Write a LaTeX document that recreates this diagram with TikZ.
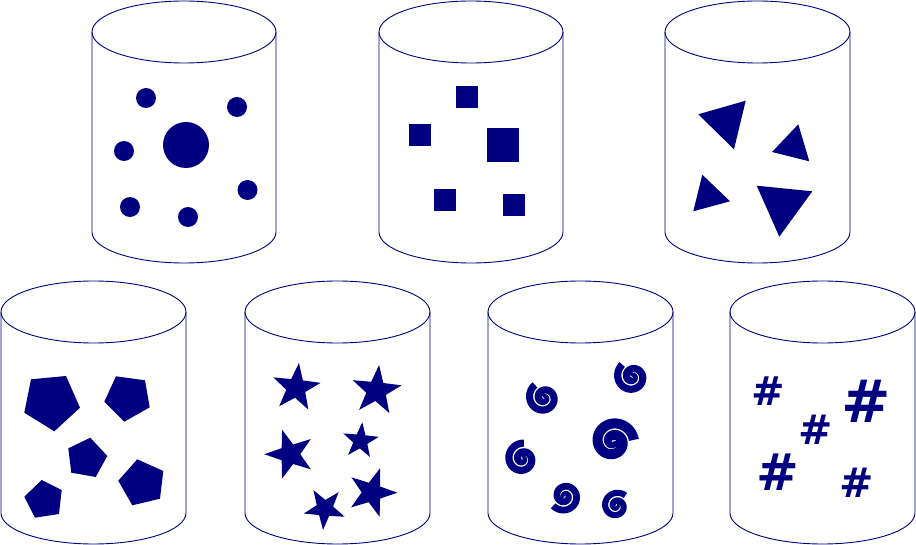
\documentclass[tikz,border=0pt]{standalone}
\usepackage{fontspec}
\newfontfamily\hashfont{DejaVu Sans}
\definecolor{navy}{RGB}{0,0,128}
\tikzset{
  cyl/.style={draw=navy, line width=0.9pt},
  shapefill/.style={fill=navy},
  hash/.style={text=navy, inner sep=0pt, font=\hashfont\bfseries}
}
\newcommand\cylinder[4]{% cx, top cy, bottom cy, rx
  \draw[cyl] (#1,#2) ellipse (#4 and 31);
  \draw[cyl] ({#1-#4},#2) -- ({#1-#4},#3) arc (180:0:#4 and 31) -- ({#1+#4},#2);
}
\newcommand\mystar[4]{% cx cy R angle
  \fill[shapefill, shift={(#1,#2)}] plot[samples at={0,36,...,324}] ({\x+#4}:{#3*(0.7+0.3*cos(5*\x))}) -- cycle;
}
\newcommand\myspiral[4]{% cx cy R notch
  \pgfmathsetmacro\spk{(#3+0.75)/14.45}
  \pgfmathsetmacro\spw{2*pi*\spk-1.6}
  \draw[navy, line width=\spw pt, shift={(#1,#2)}] plot[domain=0:648, samples=140, smooth] ({\x+#4-648}:{\spk*\x*pi/180});
}
\begin{document}
\begin{tikzpicture}[x=1pt, y=-1pt]
\useasboundingbox (0,0) rectangle (916,545);
% cylinders
\cylinder{184}{32}{232}{92}
\cylinder{471}{32}{232}{92}
\cylinder{757.5}{32}{232}{92.5}
\cylinder{93.5}{312}{513}{92.5}
\cylinder{337.5}{312}{513}{92.5}
\cylinder{580.5}{312}{513}{92.5}
\cylinder{822.5}{312}{513}{92.5}
% circles
\fill[shapefill] (186,145) circle (23);
\foreach \p in {(146,98),(237,107),(124,151),(247.5,190),(130,207),(188,217)}
  \fill[shapefill] \p circle (10);
% squares
\fill[shapefill] (456,86) rectangle (478,108);
\fill[shapefill] (409,124) rectangle (431,146);
\fill[shapefill] (487,128) rectangle (519,162);
\fill[shapefill] (434,189) rectangle (456,211);
\fill[shapefill] (503,194) rectangle (525,216);
% triangles
\fill[shapefill] (698.3,114.3) -- (745.7,100.7) -- (734,149.3) -- cycle;
\fill[shapefill] (798.3,124.3) -- (809.3,161.3) -- (772,152) -- cycle;
\fill[shapefill] (702.3,174.7) -- (730,201.3) -- (693.3,211.3) -- cycle;
\fill[shapefill] (756.7,185.7) -- (812.3,191.3) -- (779.3,236.7) -- cycle;
% pentagons
\fill[shapefill] (31,379.3) -- (66,376) -- (80,407.7) -- (54.3,431.3) -- (24.3,412.7) -- cycle;
\fill[shapefill] (116,376.3) -- (145,380.3) -- (149.7,407.3) -- (124.3,421.7) -- (104.3,401.7) -- cycle;
\fill[shapefill] (90.3,437.7) -- (107.3,456) -- (95.7,477) -- (71.3,472.7) -- (68.3,448.3) -- cycle;
\fill[shapefill] (137.3,459.3) -- (163.3,471) -- (160,498.7) -- (132.3,505.3) -- (118.3,480.7) -- cycle;
\fill[shapefill] (41.7,480) -- (61.7,490) -- (59,514) -- (35,517.7) -- (24.3,496.7) -- cycle;
% stars
\mystar{296.1}{387.8}{25}{-83.4}
\mystar{376.4}{390.7}{25.8}{-84}
\mystar{290}{454.2}{25.7}{180}
\mystar{360.5}{440.9}{18.7}{-84.5}
\mystar{371.9}{492.5}{25.5}{-71.5}
\mystar{324.7}{508.5}{21.5}{-49.5}
% spirals
\myspiral{632.4}{376.7}{19.5}{-130}
\myspiral{544}{397.8}{19.3}{-125}
\myspiral{613}{441.7}{26}{-5}
\myspiral{522.5}{458.9}{19.5}{-85}
\myspiral{564.7}{496.1}{18.5}{140}
\myspiral{616.3}{505.9}{17}{-49}
% hashes
\node[hash, font=\hashfont\bfseries\fontsize{40}{40}\selectfont] (h1) at (768,391.5) {\#};
\node[hash, font=\hashfont\bfseries\fontsize{59}{59}\selectfont] (h2) at (866,401.5) {\#};
\node[hash, font=\hashfont\bfseries\fontsize{41}{41}\selectfont] (h3) at (816,430) {\#};
\node[hash, font=\hashfont\bfseries\fontsize{51}{51}\selectfont] (h4) at (777.5,472.5) {\#};
\node[hash, font=\hashfont\bfseries\fontsize{41}{41}\selectfont] (h5) at (857,483) {\#};
\end{tikzpicture}
\end{document}
